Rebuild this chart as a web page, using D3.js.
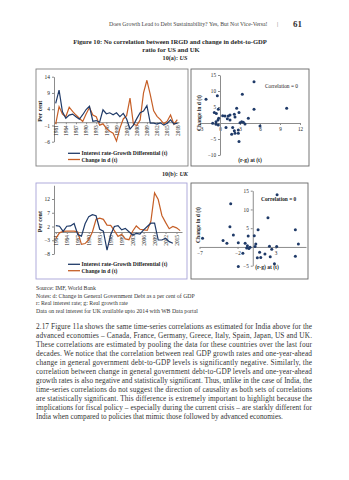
<!DOCTYPE html>
<html><head><meta charset="utf-8">
<script src="https://cdn.jsdelivr.net/npm/d3@7"></script>
<style>
body{margin:0;background:#fff}
svg{display:block}
text{font-family:"Liberation Serif","Times New Roman",serif}
</style>
</head><body>
<svg id="c" width="349" height="480"></svg>
<script>
// ---------- DATA ----------
const usYears = ["1981","1982","1983","1984","1985","1986","1987","1988","1989","1990","1991","1992","1993","1994","1995","1996","1997","1998","1999","2001","2002","2003","2004","2005","2006","2007","2008","2009","2010","2011","2012","2013","2014","2015","2016","2017","2018"];
const usIRGD   = [5.8,9.9,3.2,1.2,2.2,2.5,1.7,0.9,2.3,3.9,4.9,0.3,0.5,0.0,3.8,2.6,2.9,2.3,2.9,1.7,2.7,1.0,-2.1,-0.9,1.1,2.9,3.4,5.1,-0.3,-0.3,-0.6,-0.2,-0.9,-0.3,0.7,-0.6,-0.3];
const usChange = [-0.6,4.8,2.5,1.7,4.6,3.3,2.2,1.2,0.2,2.5,4.5,2.2,1.7,-0.9,-0.5,-1.9,-2.8,-3.4,-5.8,-1.9,1.0,2.0,7.4,-0.6,-1.0,0.7,9.0,12.9,8.5,3.5,1.8,0.8,-0.5,0.3,2.2,-0.6,0.8];
const usXTicks = ["1981","1984","1987","1990","1993","1996","1999","2003","2006","2009","2012","2015","2018"];
const usYTicks = [-6,-1,4,9,14];

const ukYears = ["1981","1982","1983","1984","1985","1986","1987","1988","1989","1990","1991","1992","1993","1994","1995","1996","1997","1998","1999","2001","2002","2003","2004","2005","2006","2007","2008","2009","2010","2011","2012","2013","2014","2015","2016"];
const ukIRGD   = [2.3,2.1,0.2,2.1,2.2,3.1,-0.9,-1.5,3.0,5.6,6.3,5.9,1.0,0.3,-6.6,-1.0,2.0,2.3,0.8,1.3,0.1,-1.1,-0.5,-0.8,0.8,2.0,3.2,3.2,-2.9,-2.9,-2.3,-3.5,-4.1];
const ukChange = [-2.3,-0.3,0.2,0.3,0.3,0.3,0.0,-4.5,-4.2,-2.8,0.0,4.6,5.0,4.6,2.5,2.4,0.5,-1.6,-0.8,-2.5,-2.8,0.3,2.2,1.0,0.8,0.6,4.0,14.2,11.8,6.0,3.5,1.2,2.0,1.5,0.5];
const ukXTicks = ["1981","1984","1987","1990","1993","1996","1999","2003","2006","2009","2012","2015"];
const ukYTicks = [-8,-3,2,7,12];

const usScatterX = [-2.1,-0.4,5.1,3.35,10.0,5.1,-0.25,2.5,2.85,-0.85,-0.55,0.4,0.75,1.25,1.5,2.15,2.25,1.1,1.5,-0.2,-0.3,-0.6,-1.1,-0.6,-0.25,3.0,3.25,3.5,3.75,4.25,0.9,1.9,2.15,2.75,1.75,2.25,2.75,2.85,6.0];
const usScatterY = [7.4,8.5,12.9,9.0,4.6,4.3,4.3,4.6,3.3,3.3,3.0,2.3,2.2,2.2,2.5,2.7,1.9,1.3,0.9,1.5,0.9,0.4,-0.1,-0.4,-0.6,0.1,0.4,0.2,-0.3,1.5,-1.4,-1.4,-2.4,-2.2,-3.5,-3.2,-3.2,-5.8,-0.9];
const usSX = [-3,0,3,6,9,12];
const usSY = [-10,-5,5,10,15];

const ukScatterX = [3.2,-2.9,2.0,-3.0,0.7,5.6,-2.55,-6.6,-0.6,0.2,-3.9,-3.4,-1.9,-1.0,-0.7,-0.35,-0.8,-0.5,0.4,0.3,2.2,3.15,6.0,2.5,0.9,1.6,-1.3,2.3,0.6,1.05,5.6,2.85,-1.9];
const ukScatterY = [13.9,11.5,7.8,5.4,4.6,4.6,3.2,2.3,2.9,3.0,1.7,1.0,1.1,1.0,0.35,-0.1,-0.3,-0.4,0.8,0.1,0.2,0.1,0.8,-0.6,-1.4,-1.9,-1.7,-2.6,-2.9,-2.8,-2.5,-4.5,-5.2];
const ukSX = [-7,-2,3];
const ukSY = [-5,5,10,15];

const seriesNames = ["Interest rate-Growth Differential (t)","Change in d (t)"];

const paragraph = [
 "2.17 Figure 11a shows the same time-series correlations as estimated for India above for the",
 "advanced economies \u2013 Canada, France, Germany, Greece, Italy, Spain, Japan, US and UK.",
 "These correlations are estimated by pooling the data for these countries over the last four",
 "decades. We notice that the correlation between real GDP growth rates and one-year-ahead",
 "change in general government debt-to-GDP levels is significantly negative. Similarly, the",
 "correlation between change in general government debt-to-GDP levels and one-year-ahead",
 "growth rates is also negative and statistically significant. Thus, unlike in the case of India, the",
 "time-series correlations do not suggest the direction of causality as both sets of correlations",
 "are statistically significant. This difference is extremely important to highlight because the",
 "implications for fiscal policy \u2013 especially during the current crisis \u2013 are starkly different for",
 "India when compared to policies that mimic those followed by advanced economies."
];
const notes = [
 "Source: IMF, World Bank",
 "Notes: d: Change in General Government Debt as a per cent of GDP",
 "r: Real interest rate; g: Real growth rate",
 "Data on real interest for UK available upto 2014 with WB Data portal"
];

// ---------- DRAW ----------
const BLUE = "#1f3a68", ORANGE = "#c65f27", AX = "#8c8c8c", TXT = "#333";
const svg = d3.select("#c");
svg.append("rect").attr("width",349).attr("height",480).attr("fill","#fff");

svg.append("text").attr("x",109).attr("y",26).attr("font-size",5.8).attr("fill","#444")
  .text("Does Growth Lead to Debt Sustainability? Yes, But Not Vice-Versa!");
svg.append("text").attr("x",277).attr("y",26).attr("font-size",6).attr("fill","#666").text("|");
svg.append("text").attr("x",293).attr("y",27).attr("font-size",9).attr("font-weight","bold").attr("fill","#333").text("61");

svg.append("text").attr("x",170).attr("y",44).attr("text-anchor","middle").attr("font-size",6.6).attr("font-weight","bold").attr("fill","#2a2a2a")
  .text("Figure 10: No correlation between IRGD and change in debt-to-GDP");
svg.append("text").attr("x",171).attr("y",51.5).attr("text-anchor","middle").attr("font-size",6.6).attr("font-weight","bold").attr("fill","#2a2a2a")
  .text("ratio for US and UK");

function subTitle(y, lbl, c){
  const t = svg.append("text").attr("x",175).attr("y",y).attr("text-anchor","middle").attr("font-size",6.2).attr("font-weight","bold").attr("fill","#2a2a2a");
  t.append("tspan").text(lbl);
  t.append("tspan").attr("font-style","italic").text(c);
}
subTitle(59.5,"10(a): ","US");
subTitle(175.5,"10(b): ","UK");

function lineChart(o){
  svg.append("rect").attr("x",o.box[0]).attr("y",o.box[1]).attr("width",o.box[2]).attr("height",o.box[3])
    .attr("fill","#fff").attr("stroke",o.boxColor).attr("stroke-width",0.9);
  const x = d3.scalePoint().domain(o.cats).range(o.xr).padding(0.5);
  const y = d3.scaleLinear().domain(o.yd).range(o.yr);
  const g = svg.append("g");
  const ya = g.append("g").attr("transform",`translate(${o.xr[0]},0)`)
    .call(d3.axisLeft(y).tickValues(o.yTicks).tickSize(2).tickSizeOuter(0).tickPadding(2));
  ya.select(".domain").attr("stroke",AX);
  ya.selectAll(".tick line").attr("stroke",AX);
  ya.selectAll("text").attr("font-size",5.4).attr("fill","#222").attr("font-family","Liberation Serif");
  const xa = g.append("g").attr("transform",`translate(0,${y(0)})`)
    .call(d3.axisBottom(x).tickValues(o.xTicks).tickSize(2).tickSizeOuter(0));
  xa.select(".domain").attr("stroke",AX);
  xa.selectAll(".tick line").attr("stroke",AX);
  xa.selectAll("text").attr("transform","rotate(-90)").attr("text-anchor","end")
    .attr("x",-3).attr("y",0).attr("dy","0.32em").attr("font-size",5.4).attr("fill","#222").attr("font-family","Liberation Serif");
  svg.append("text").attr("transform",`translate(${o.xr[0]-12},${(o.yr[0]+o.yr[1])/2+2}) rotate(-90)`)
    .attr("text-anchor","middle").attr("font-size",6).attr("font-weight","bold").attr("fill","#222").text("Per cent");
  const line = d3.line().x((d,i)=>x(o.cats[i])).y(d=>y(d));
  g.append("path").datum(o.s2).attr("d",line).attr("fill","none").attr("stroke",ORANGE).attr("stroke-width",1.2);
  g.append("path").datum(o.s1).attr("d",line).attr("fill","none").attr("stroke",BLUE).attr("stroke-width",1.2);
  [[BLUE,seriesNames[0]],[ORANGE,seriesNames[1]]].forEach((l,i)=>{
    const ly = o.legY[i];
    svg.append("line").attr("x1",68).attr("x2",80).attr("y1",ly).attr("y2",ly).attr("stroke",l[0]).attr("stroke-width",1.3);
    svg.append("text").attr("x",81.5).attr("y",ly+2).attr("font-size",5.6).attr("font-weight","bold").attr("fill","#222").text(l[1]);
  });
}

lineChart({box:[36,69,152,97], boxColor:"#808080", cats:usYears, xr:[54,179], yd:[-6,14], yr:[141.7,76.7],
  yTicks:usYTicks, xTicks:usXTicks, s1:usIRGD, s2:usChange, legY:[153.3,159.5]});
lineChart({box:[36,183,151,96], boxColor:"#a7a3d8", cats:ukYears, xr:[54,182], yd:[-8,17], yr:[254,185.25],
  yTicks:ukYTicks, xTicks:ukXTicks, s1:ukIRGD, s2:ukChange, legY:[264.3,270.7]});

function scatter(o){
  svg.append("rect").attr("x",o.box[0]).attr("y",o.box[1]).attr("width",o.box[2]).attr("height",o.box[3])
    .attr("fill","#fff").attr("stroke","#666").attr("stroke-width",0.9);
  const x = d3.scaleLinear().domain(o.xd).range(o.xr);
  const y = d3.scaleLinear().domain(o.yd).range(o.yr);
  const g = svg.append("g");
  const xa = g.append("g").attr("transform",`translate(0,${y(0)})`)
    .call(d3.axisBottom(x).tickValues(o.xt).tickFormat(d3.format("d")).tickSize(2).tickSizeOuter(0).tickPadding(2));
  xa.select(".domain").attr("stroke",AX);
  xa.selectAll(".tick line").attr("stroke",AX);
  xa.selectAll("text").attr("font-size",5.2).attr("fill","#222").attr("font-family","Liberation Serif");
  const ya = g.append("g").attr("transform",`translate(${x(0)},0)`)
    .call(d3.axisLeft(y).tickValues(o.yt).tickFormat(d3.format("d")).tickSize(2).tickSizeOuter(0).tickPadding(2));
  ya.select(".domain").attr("stroke",AX);
  ya.selectAll(".tick line").attr("stroke",AX);
  ya.selectAll("text").attr("font-size",5.2).attr("fill","#222").attr("font-family","Liberation Serif");
  g.selectAll("circle").data(o.px).join("circle")
    .attr("cx",d=>x(d)).attr("cy",(d,i)=>y(o.py[i])).attr("r",1.5).attr("fill",BLUE);
  svg.append("text").attr("transform",`translate(${o.yl[0]},${o.yl[1]}) rotate(-90)`).attr("text-anchor","middle")
    .attr("font-size",5.6).attr("font-weight","bold").attr("fill","#222").text("Change in d (t)");
  svg.append("text").attr("x",o.xl[0]).attr("y",o.xl[1]).attr("text-anchor","middle")
    .attr("font-size",5.6).attr("font-weight","bold").attr("fill","#222").text("(r-g) at (t)");
  svg.append("text").attr("x",o.cl[0]).attr("y",o.cl[1])
    .attr("font-size",5.4).attr("font-weight",o.cb).attr("fill","#222").text("Correlation = 0");
}

scatter({box:[191,69,118,97], xd:[-3,12], xr:[200,300], yd:[-10,15], yr:[155,75], xt:usSX, yt:usSY,
  px:usScatterX, py:usScatterY, yl:[201,113], xl:[250,162], cl:[265,88], cb:"normal"});
scatter({box:[191,183,117,96], xd:[-7,7], xr:[199.5,306], yd:[-5,15], yr:[265.7,190.7], xt:ukSX, yt:ukSY,
  px:ukScatterX, py:ukScatterY, yl:[200,225], xl:[267,269], cl:[261,201], cb:"bold"});

notes.forEach((t,i)=>{
  svg.append("text").attr("x",36).attr("y",290+i*7.5).attr("font-size",5.8).attr("fill",TXT).text(t);
});
paragraph.forEach((t,i)=>{
  const tx = svg.append("text").attr("x",36).attr("y",328.5+i*9).attr("font-size",7.3).attr("fill",TXT).text(t);
  if(i < paragraph.length-1) tx.attr("textLength",276).attr("lengthAdjust","spacing");
});
</script>
</body></html>
